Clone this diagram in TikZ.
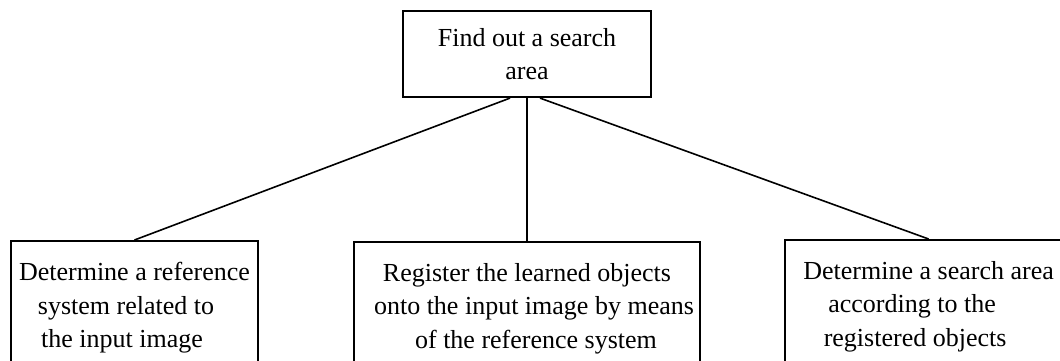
\documentclass[tikz,border=0pt]{standalone}
\usepackage{fontspec}
\setmainfont{Liberation Serif}
\usetikzlibrary{positioning}

\begin{document}
\begin{tikzpicture}[x=1pt, y=1pt]
	\tikzset{
		box/.style={draw, line width=1.1pt, align=center, inner xsep=2pt, inner ysep=10.5pt, font=\fontsize{13}{16.8}\selectfont},
		link/.style={line width=0.8pt}
	}
	\useasboundingbox (0,0) rectangle (530,180);
	\clip (0,0) rectangle (530,180);
	\node[box, minimum width=124pt, minimum height=43pt, inner ysep=0pt] (search) at (263.5,153) {Find out a search\\area};
	\node[box, minimum width=123.5pt, anchor=north] (refsys) at (67.25,60) {Determine a reference\\system related to\rule{8.5pt}{0pt}\\the input image\rule{12.5pt}{0pt}};
	\node[box, minimum width=173pt, anchor=north] (register) at (263.5,59.5) {Register the learned objects\\\rule{7pt}{0pt}onto the input image by means\\\rule{9pt}{0pt}of the reference system};
	\node[box, minimum width=143.5pt, anchor=north] (area) at (464.3,60.5) {Determine a search area\\according to the\rule{16.5pt}{0pt}\\registered objects\rule{13.5pt}{0pt}};
	\draw[link] ([xshift=-8.5pt]search.south) -- (refsys.north);
	\draw[link] (search.south) -- (register.north);
	\draw[link] ([xshift=6.5pt]search.south) -- (area.north);
\end{tikzpicture}
\end{document}
